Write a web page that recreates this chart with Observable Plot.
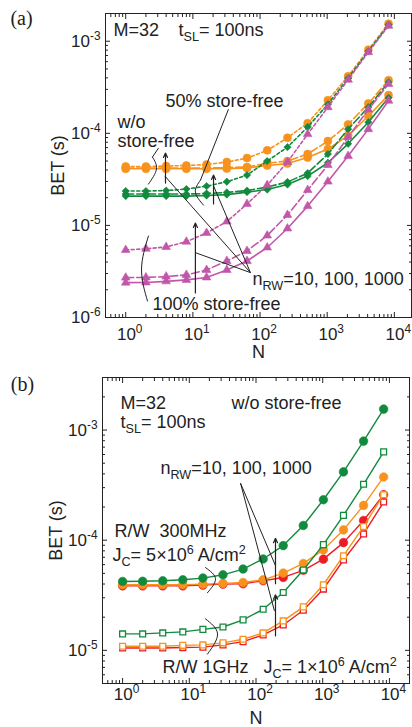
<!DOCTYPE html>
<html><head><meta charset="utf-8">
<script src="https://cdn.jsdelivr.net/npm/d3@7"></script>
<script src="https://cdn.jsdelivr.net/npm/@observablehq/plot@0.6"></script>
<style>
html,body{margin:0;padding:0;background:#fff;}
#wrap{width:412px;overflow:hidden;}
svg{display:block;}
svg text{white-space:pre;}
</style></head><body><div id="wrap"></div>
<script>
// ---------- data ----------
const N = [1,2,4,8,16,32,64,128,256,512,1024,2048,4096,8192];
// Panel (a): BET (s) vs N, three store-free ratios x three n_RW values
const woStoreFree_n10   = [4.12e-5,4.12e-5,4.12e-5,4.12e-5,4.12e-5,4.14e-5,4.20e-5,4.47e-5,4.69e-5,5.45e-5,6.74e-5,9.44e-5,1.54e-4,2.60e-4];
const woStoreFree_n100  = [4.19e-5,4.19e-5,4.19e-5,4.19e-5,4.19e-5,4.25e-5,4.30e-5,4.75e-5,4.99e-5,5.95e-5,8.23e-5,1.25e-4,2.11e-4,3.78e-4];
const woStoreFree_n1000 = [4.36e-5,4.36e-5,4.41e-5,4.47e-5,4.58e-5,4.87e-5,5.38e-5,6.53e-5,8.93e-5,1.29e-4,2.29e-4,4.17e-4,8.09e-4,1.55e-3];
const sf50_n10   = [2.08e-5,2.08e-5,2.08e-5,2.08e-5,2.11e-5,2.16e-5,2.30e-5,2.45e-5,2.78e-5,3.43e-5,4.79e-5,7.69e-5,1.32e-4,2.43e-4];
const sf50_n100  = [2.19e-5,2.19e-5,2.19e-5,2.19e-5,2.22e-5,2.28e-5,2.39e-5,2.61e-5,2.96e-5,3.70e-5,5.95e-5,1.11e-4,1.92e-4,3.59e-4];
const sf50_n1000 = [2.36e-5,2.36e-5,2.39e-5,2.48e-5,2.67e-5,2.98e-5,3.52e-5,4.99e-5,7.08e-5,1.17e-4,2.07e-4,3.97e-4,7.79e-4,1.51e-3];
const sf100_n10   = [2.39e-6,2.40e-6,2.47e-6,2.56e-6,2.72e-6,3.28e-6,4.11e-6,5.75e-6,9.25e-6,1.62e-5,2.99e-5,5.66e-5,1.11e-4,2.26e-4];
const sf100_n100  = [2.71e-6,2.72e-6,2.78e-6,2.90e-6,3.28e-6,4.11e-6,5.28e-6,7.77e-6,1.30e-5,2.42e-5,4.52e-5,9.10e-5,1.81e-4,3.44e-4];
const sf100_n1000 = [5.41e-6,5.58e-6,5.83e-6,6.66e-6,8.28e-6,1.10e-5,1.71e-5,2.74e-5,4.87e-5,9.80e-5,1.92e-4,3.82e-4,7.60e-4,1.47e-3];
// Panel (b): w/o store-free, R/W 300MHz Jc=5e6 (filled) and R/W 1GHz Jc=1e6 (open)
const mhz300_n10   = [3.85e-5,3.85e-5,3.85e-5,3.85e-5,3.91e-5,3.99e-5,4.02e-5,4.28e-5,4.59e-5,5.33e-5,6.73e-5,9.51e-5,1.51e-4,2.59e-4];
const mhz300_n100  = [3.94e-5,3.94e-5,3.94e-5,3.94e-5,3.99e-5,4.05e-5,4.13e-5,4.37e-5,5.03e-5,6.15e-5,8.17e-5,1.24e-4,2.07e-4,3.75e-4];
const mhz300_n1000 = [4.22e-5,4.24e-5,4.28e-5,4.37e-5,4.53e-5,4.85e-5,5.47e-5,6.75e-5,8.93e-5,1.36e-4,2.33e-4,4.17e-4,7.94e-4,1.55e-3];
const ghz1_n10   = [1.05e-5,1.05e-5,1.05e-5,1.06e-5,1.07e-5,1.12e-5,1.20e-5,1.38e-5,1.70e-5,2.31e-5,3.60e-5,6.61e-5,1.14e-4,2.22e-4];
const ghz1_n100  = [1.09e-5,1.09e-5,1.09e-5,1.11e-5,1.12e-5,1.17e-5,1.26e-5,1.44e-5,1.85e-5,2.48e-5,3.94e-5,7.23e-5,1.33e-4,2.59e-4];
const ghz1_n1000 = [1.41e-5,1.41e-5,1.44e-5,1.47e-5,1.55e-5,1.63e-5,1.89e-5,2.36e-5,3.35e-5,5.36e-5,9.12e-5,1.68e-4,3.22e-4,6.34e-4];

// tick values
const xMajor  = [1, 10, 100, 1000, 10000];
const yMajorA = [1e-6, 1e-5, 1e-4, 1e-3];
const yMajorB = [1e-5, 1e-4, 1e-3];

// annotations (data coordinates)
const textsA = [
  {N:0.658, v:1.33e-3, t:"M=32"},
  {N:6.11,  v:1.33e-3, t:"t_{SL}= 100ns"},
  {N:3.91,  v:2.24e-4, t:"50% store-free"},
  {N:0.755, v:1.33e-4, t:"w/o"},
  {N:0.755, v:8.20e-5, t:"store-free"},
  {N:77.1,  v:2.62e-6, t:"n_{RW}=10, 100, 1000"},
  {N:2.51,  v:1.41e-6, t:"100% store-free"}
];
const linksA = [
  {N1:33.9, v1:1.83e-4, N2:12.97, v2:3.10e-5},
  {N1:3.08, v1:6.92e-5, N2:2.50,  v2:5.52e-5},
  {N1:72.0, v1:3.07e-6, N2:3.82,  v2:3.44e-5},
  {N1:72.0, v1:3.07e-6, N2:20.4,  v2:2.67e-5},
  {N1:72.0, v1:3.07e-6, N2:10.9,  v2:5.06e-6}
];
const arrowsA = [
  {N1:3.91, v1:2.88e-5, N2:3.91, v2:6.10e-5},
  {N1:20.3, v1:1.71e-5, N2:20.3, v2:3.52e-5},
  {N1:10.9, v1:1.85e-6, N2:10.9, v2:1.06e-5}
];
const bracketsA = [
  {id:"o", N:2.50, v:5.52e-5},{id:"o", N:2.87, v:4.09e-5},{id:"o", N:2.18, v:2.81e-5},
  {id:"g", N:12.97,v:3.10e-5},{id:"g", N:10.9, v:2.30e-5},{id:"g", N:14.4, v:1.66e-5},
  {id:"m", N:2.18, v:7.67e-6},{id:"m", N:1.72, v:3.36e-6},{id:"m", N:2.11, v:1.51e-6}
];
const textsB = [
  {N:0.93,  v:1.76e-3, t:"M=32"},
  {N:0.93,  v:1.18e-3, t:"t_{SL}= 100ns"},
  {N:42.9,  v:1.76e-3, t:"w/o store-free"},
  {N:3.70,  v:4.50e-4, t:"n_{RW}=10, 100, 1000"},
  {N:0.756, v:1.21e-4, t:"R/W  300MHz"},
  {N:0.706, v:7.30e-5, t:"J_{C}= 5×10^{6} A/cm^{2}"},
  {N:3.96,  v:7.05e-6, t:"R/W 1GHz"},
  {N:129.5, v:7.05e-6, t:"J_{C}= 1×10^{6} A/cm^{2}"}
];
const linksB = [
  {N1:58.6, v1:3.29e-4, N2:196, v2:5.87e-5},
  {N1:58.6, v1:3.29e-4, N2:189, v2:2.28e-5}
];
const arrowsB = [
  {N1:196, v1:4.03e-5, N2:196, v2:1.04e-4},
  {N1:196, v1:1.35e-5, N2:196, v2:3.19e-5}
];
const bracketsB = [
  {id:"f", N:17.5, v:5.64e-5},{id:"f", N:24.7, v:4.47e-5},{id:"f", N:18.7, v:3.33e-5},
  {id:"s", N:17.5, v:1.93e-5},{id:"s", N:26.5, v:1.41e-5},{id:"s", N:18.7, v:9.24e-6}
];

// ---------- styling ----------
const ORANGE = "#F7921E", GREEN = "#128A3E", MAGENTA = "#C257A9", RED = "#EC1C24", INK = "#222";
const FONT = "'Liberation Sans', Arial, Helvetica, sans-serif";
const SERIF = "'Liberation Serif', 'Times New Roman', serif";

function minors(lo, hi) {
  const out = [];
  for (let e = Math.floor(Math.log10(lo)); e <= Math.ceil(Math.log10(hi)); e++)
    for (let m = 2; m <= 9; m++) { const v = m * Math.pow(10, e); if (v >= lo && v <= hi) out.push(v); }
  return out;
}
const fmtPow = d => `10^{${Math.round(Math.log10(d))}}`;
const rows = vals => N.map((n, i) => ({N: n, v: vals[i]}));

function seriesMarks(vals, color, dash, symbol, r, lw, open) {
  const d = rows(vals);
  return [
    Plot.line(d, {x: "N", y: "v", stroke: color, strokeWidth: lw, strokeDasharray: dash || undefined}),
    Plot.dot(d, {x: "N", y: "v", symbol, r, fill: open ? "white" : color, stroke: color, strokeWidth: open ? 1.3 : 0.6})
  ];
}

function axes(xDom, yDom, yMajor, xPad) {
  return [
    Plot.axisX(xMajor, {anchor: "bottom", tickSize: -5, fill: "none", label: null}),
    Plot.axisX(minors(xDom[0], xDom[1]), {anchor: "bottom", tickSize: -3, fill: "none", label: null}),
    Plot.axisX(xMajor, {anchor: "top", tickSize: -5, fill: "none", label: null}),
    Plot.axisX(minors(xDom[0], xDom[1]), {anchor: "top", tickSize: -3, fill: "none", label: null}),
    Plot.axisY(yMajor, {anchor: "left", tickSize: -5, fill: "none", label: null}),
    Plot.axisY(minors(yDom[0], yDom[1]), {anchor: "left", tickSize: -3, fill: "none", label: null}),
    Plot.axisY(yMajor, {anchor: "right", tickSize: -5, fill: "none", label: null}),
    Plot.axisY(minors(yDom[0], yDom[1]), {anchor: "right", tickSize: -3, fill: "none", label: null}),
    Plot.axisX(xMajor, {anchor: "bottom", tickSize: 0, tickPadding: xPad, tickFormat: fmtPow, label: null, fontSize: 17, dx: 4, fill: INK}),
    Plot.axisY(yMajor, {anchor: "left", tickSize: 0, tickPadding: 5, tickFormat: fmtPow, label: null, fontSize: 17, fill: INK})
  ];
}

function annot(texts, links, arrows, brackets) {
  return [
    Plot.line(brackets, {x: "N", y: "v", z: "id", curve: "natural", stroke: INK, strokeWidth: 1}),
    Plot.link(links, {x1: "N1", y1: "v1", x2: "N2", y2: "v2", stroke: INK, strokeWidth: 1}),
    Plot.arrow(arrows, {x1: "N1", y1: "v1", x2: "N2", y2: "v2", stroke: INK, strokeWidth: 1.2, headLength: 6, headAngle: 50}),
    Plot.text(texts, {x: "N", y: "v", text: "t", textAnchor: "start", lineAnchor: "middle", fontSize: 18, fill: INK})
  ];
}

function richify(svg) {
  d3.select(svg).selectAll("text").each(function () {
    const s = this.textContent;
    if (!/[_^]\{/.test(s)) return;
    const sel = d3.select(this);
    sel.text(null);
    const parts = s.split(/([_^]\{[^}]*\})/).filter(p => p.length);
    let shift = 0;
    for (const p of parts) {
      let target = 0, txt = p, small = false;
      if (p[0] === "_") { target = 5; txt = p.slice(2, -1); small = true; }
      else if (p[0] === "^") { target = -7; txt = p.slice(2, -1); small = true; }
      const t = sel.append("tspan").text(txt);
      if (target - shift !== 0) t.attr("dy", target - shift);
      if (small) t.attr("font-size", "0.7em");
      shift = target;
    }
  });
  return svg;
}

// ---------- panel (a) ----------
const xDomA = [0.5, 18000], yDomA = [1e-6, 2e-3];
const chartA = Plot.plot({
  width: 412, height: 362,
  marginLeft: 105, marginRight: 1, marginTop: 13, marginBottom: 45,
  x: {type: "log", domain: xDomA, axis: null},
  y: {type: "log", domain: yDomA, axis: null},
  style: {fontFamily: FONT, fontSize: "17px", color: INK, background: "white"},
  marks: [
    ...seriesMarks(woStoreFree_n10,   ORANGE, null,    "circle", 4.0, 1.6),
    ...seriesMarks(woStoreFree_n100,  ORANGE, "8,3",   "circle", 4.0, 1.6),
    ...seriesMarks(woStoreFree_n1000, ORANGE, "3,2.5", "circle", 4.0, 1.6),
    ...seriesMarks(sf50_n10,   GREEN, null,    "diamond2", 3.3, 1.6),
    ...seriesMarks(sf50_n100,  GREEN, "8,3",   "diamond2", 3.3, 1.6),
    ...seriesMarks(sf50_n1000, GREEN, "3,2.5", "diamond2", 3.3, 1.6),
    ...seriesMarks(sf100_n10,   MAGENTA, null,    "triangle", 3.2, 1.6),
    ...seriesMarks(sf100_n100,  MAGENTA, "8,3",   "triangle", 3.2, 1.6),
    ...seriesMarks(sf100_n1000, MAGENTA, "3,2.5", "triangle", 3.2, 1.6),
    Plot.frame({stroke: INK, strokeWidth: 1}),
    ...axes(xDomA, yDomA, yMajorA, 10),
    ...annot(textsA, linksA, arrowsA, bracketsA),
    Plot.text(["BET (s)"], {frameAnchor: "left", rotate: -90, dx: -47, textAnchor: "middle", lineAnchor: "middle", fontSize: 18, fill: INK}),
    Plot.text(["N"], {frameAnchor: "bottom", dy: 35, textAnchor: "middle", lineAnchor: "middle", fontSize: 18, fill: INK}),
    Plot.text(["(a)"], {frameAnchor: "top-left", dx: -84, dy: 5, textAnchor: "middle", lineAnchor: "middle", fontSize: 20, fontFamily: SERIF, fill: INK})
  ]
});

// ---------- panel (b) ----------
const xDomB = [0.5, 20000], yDomB = [5e-6, 3e-3];
const chartB = Plot.plot({
  width: 412, height: 365,
  marginLeft: 102, marginRight: 3, marginTop: 15, marginBottom: 44,
  x: {type: "log", domain: xDomB, axis: null},
  y: {type: "log", domain: yDomB, axis: null},
  style: {fontFamily: FONT, fontSize: "17px", color: INK, background: "white"},
  marks: [
    ...seriesMarks(mhz300_n10,   RED,    null, "circle", 4.3, 1.4),
    ...seriesMarks(mhz300_n100,  ORANGE, null, "circle", 4.3, 1.4),
    ...seriesMarks(mhz300_n1000, GREEN,  null, "circle", 4.3, 1.4),
    ...seriesMarks(ghz1_n10,   RED,    null, "square", 3.3, 1.4, true),
    ...seriesMarks(ghz1_n100,  ORANGE, null, "square", 3.3, 1.4, true),
    ...seriesMarks(ghz1_n1000, GREEN,  null, "square", 3.3, 1.4, true),
    Plot.frame({stroke: INK, strokeWidth: 1}),
    ...axes(xDomB, yDomB, yMajorB, 4),
    ...annot(textsB, linksB, arrowsB, bracketsB),
    Plot.text(["BET (s)"], {frameAnchor: "left", rotate: -90, dx: -46, textAnchor: "middle", lineAnchor: "middle", fontSize: 18, fill: INK}),
    Plot.text(["N"], {frameAnchor: "bottom", dy: 35, textAnchor: "middle", lineAnchor: "middle", fontSize: 18, fill: INK}),
    Plot.text(["(b)"], {frameAnchor: "top-left", dx: -80, dy: 7, textAnchor: "middle", lineAnchor: "middle", fontSize: 20, fontFamily: SERIF, fill: INK})
  ]
});

const wrap = document.getElementById("wrap");
wrap.appendChild(richify(chartA));
wrap.appendChild(richify(chartB));
</script>
</body></html>
